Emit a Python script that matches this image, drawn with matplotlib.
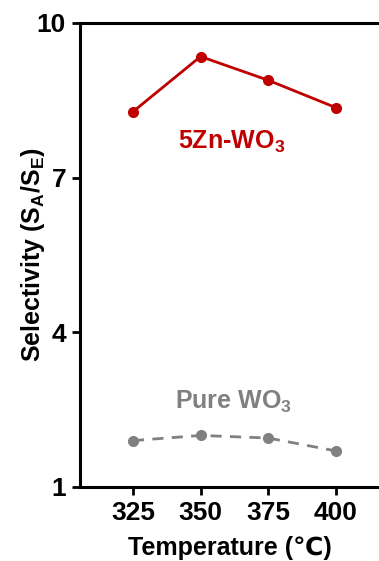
import matplotlib.pyplot as plt

plt.rcParams['font.family'] = ['Liberation Sans', 'DejaVu Sans']
plt.rcParams['mathtext.fontset'] = 'custom'
plt.rcParams['mathtext.rm'] = 'Liberation Sans:bold'
plt.rcParams['mathtext.bf'] = 'Liberation Sans:bold'

temps = [325, 350, 375, 400]
zn_wo3 = [8.28, 9.35, 8.89, 8.36]
pure_wo3 = [1.90, 2.00, 1.95, 1.70]

red = '#C00000'
gray = '#808080'

fig = plt.figure(figsize=(3.79, 5.61), dpi=100)
ax = fig.add_axes([80 / 379, 74 / 561, 1 - 80 / 379, 464 / 561])

ax.plot(temps, zn_wo3, '-o', color=red, lw=2, ms=7)
ax.plot(temps, pure_wo3, '--o', color=gray, lw=2, ms=7, dashes=(4, 3))

ax.text(361.6, 7.7, r'5Zn-WO$_\mathbf{3}$', color=red, fontsize=18,
        fontweight='bold', ha='center', va='center')
ax.text(362, 2.65, r'Pure WO$_\mathbf{3}$', color=gray, fontsize=18,
        fontweight='bold', ha='center', va='center')

ax.set_xlim(305.4, 416)
ax.set_ylim(1, 10)
ax.set_xticks(temps)
ax.set_yticks([1, 4, 7, 10])
ax.tick_params(axis='both', direction='out', length=6, width=2,
               labelsize=19, pad=4)
for lbl in ax.get_xticklabels() + ax.get_yticklabels():
    lbl.set_fontweight('bold')
for s in ['left', 'bottom', 'top']:
    ax.spines[s].set_linewidth(2.2)
ax.spines['right'].set_visible(False)

ax.set_xlabel('Temperature (℃)', fontsize=18, fontweight='bold', labelpad=8)
ax.set_ylabel(r'Selectivity (S$_\mathbf{A}$/S$_\mathbf{E}$)', fontsize=18,
              fontweight='bold', labelpad=-7)

fig.savefig('out.png', dpi=100)
